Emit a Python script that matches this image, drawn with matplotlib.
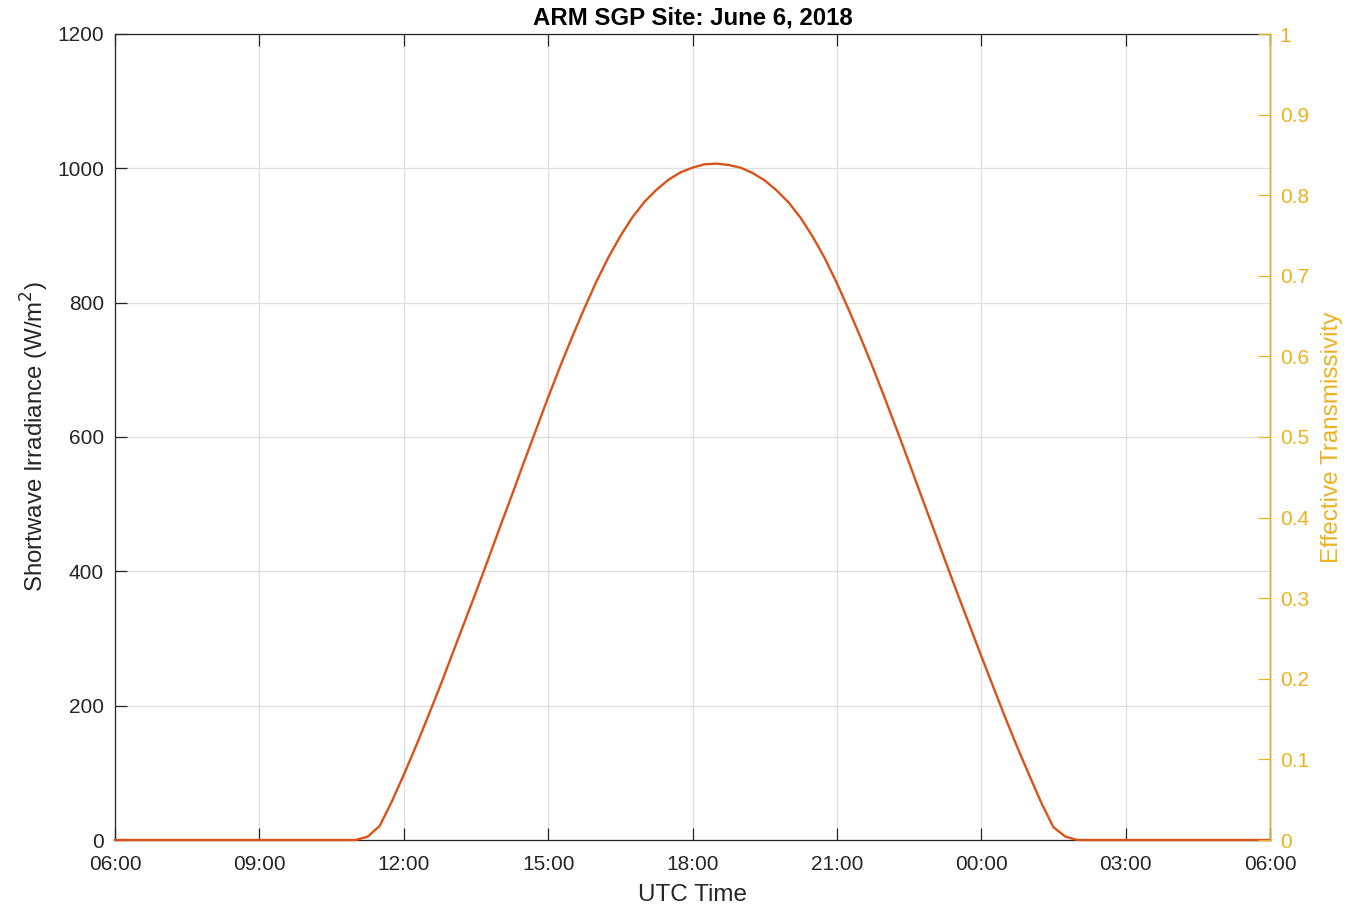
import matplotlib
matplotlib.use("Agg")
import matplotlib.pyplot as plt
import matplotlib.dates as mdates
import pandas as pd

# Hours after 06:00 UTC on 2018-06-06
hours = [0.0,
         5.0, 5.25, 5.5, 5.75, 6.0, 6.25, 6.5, 6.75, 7.0, 7.25, 7.5, 7.75,
         8.0, 8.25, 8.5, 8.75, 9.0, 9.25, 9.5, 9.75, 10.0, 10.25, 10.5, 10.75,
         11.0, 11.25, 11.5, 11.75, 12.0, 12.25, 12.5, 12.75, 13.0, 13.25, 13.5, 13.75,
         14.0, 14.25, 14.5, 14.75, 15.0, 15.25, 15.5, 15.75, 16.0, 16.25, 16.5, 16.75,
         17.0, 17.25, 17.5, 17.75, 18.0, 18.25, 18.5, 18.75, 19.0, 19.25, 19.5, 19.75,
         20.0, 24.0]

# Shortwave irradiance (W/m^2)
irradiance = [0,
              0, 5, 21, 57, 97, 139, 183, 228, 275, 322, 369, 417,
              466, 514, 563, 611, 659, 705, 749, 791, 831, 867, 899, 927,
              950, 968, 983, 994, 1001, 1006, 1007, 1005, 1001, 993, 982, 967,
              949, 926, 898, 866, 829, 789, 747, 703, 657, 610, 562, 513,
              465, 416, 368, 321, 274, 228, 182, 138, 96, 55, 19, 5,
              0, 0]

title = "ARM SGP Site: June 6, 2018"
xlabel = "UTC Time"
ylabel_left = "Shortwave Irradiance (W/m$^2$)"
ylabel_right = "Effective Transmissivity"
left_ticks = [0, 200, 400, 600, 800, 1000, 1200]
right_ticks = [0, 0.1, 0.2, 0.3, 0.4, 0.5, 0.6, 0.7, 0.8, 0.9, 1]
right_ticklabels = ["0", "0.1", "0.2", "0.3", "0.4", "0.5", "0.6", "0.7", "0.8", "0.9", "1"]

start = pd.Timestamp("2018-06-06 06:00")
times = start + pd.to_timedelta(hours, unit="h")

plt.rcParams["font.family"] = ["Liberation Sans", "DejaVu Sans"]

dark = "#262626"
line_color = "#D95319"
right_color = "#EDB120"

fig = plt.figure(figsize=(13.68, 9.06), dpi=100)
ax = fig.add_axes([115 / 1368, 1 - 840 / 906, 1155 / 1368, 806 / 906])

ax.plot(times, irradiance, color=line_color, lw=1.7, zorder=3, clip_on=False,
        solid_joinstyle="round")

ax.set_xlim(start, start + pd.Timedelta(hours=24))
ax.set_ylim(0, 1200)
ax.set_yticks(left_ticks)
ax.xaxis.set_major_locator(mdates.HourLocator(byhour=range(0, 24, 3)))
ax.xaxis.set_major_formatter(mdates.DateFormatter("%H:%M"))

ax.grid(True, color="#dedede", lw=0.9)
ax.set_axisbelow(True)
for s in ax.spines.values():
    s.set_color(dark)
    s.set_linewidth(0.9)
ax.tick_params(axis="both", direction="in", length=8.5, width=0.9, color=dark,
               labelcolor=dark, labelsize=15)
ax.tick_params(axis="x", top=True, pad=11)
ax.tick_params(axis="y", pad=8)

ax.set_xlabel(xlabel, fontsize=17.5, color=dark, labelpad=7)
ax.set_ylabel(ylabel_left, fontsize=17.3, color=dark, labelpad=4)
ax.set_title(title, fontsize=17.3, fontweight="bold", color="black", pad=7)

ax2 = ax.twinx()
ax2.set_ylim(0, 1)
ax2.set_yticks(right_ticks)
ax2.set_yticklabels(right_ticklabels)
ax2.spines["right"].set_color(right_color)
ax2.spines["right"].set_linewidth(0.9)
for side in ("left", "top", "bottom"):
    ax2.spines[side].set_visible(False)
ax2.tick_params(axis="y", direction="in", length=8.5, width=0.9, color=right_color,
                labelcolor=right_color, labelsize=15, pad=7)
ax2.set_ylabel(ylabel_right, fontsize=17.5, color=right_color, labelpad=9)

fig.savefig("out.png", dpi=100)
